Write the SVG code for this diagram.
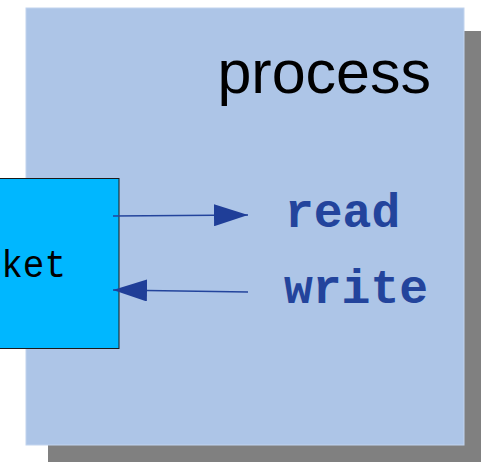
<svg xmlns="http://www.w3.org/2000/svg" width="481" height="462" viewBox="0 0 481 462">
<style>
.lbl{font-family:"Liberation Mono","Courier New",monospace;font-weight:bold;font-size:48px;fill:#23449c}
.conn{stroke:#23449c;stroke-width:1.3;fill:none}
</style>
<defs>
<marker id="ah" viewBox="0 0 34 22" refX="34" refY="11" markerWidth="34" markerHeight="22" markerUnits="userSpaceOnUse" orient="auto">
<path d="M0,0 L34,11 L0,22 Z" fill="#1f3e98"/>
</marker>
</defs>
<rect width="481" height="462" fill="#ffffff"/>
<g id="process">
<rect x="48" y="31" width="440" height="440" fill="#808080"/>
<rect x="26" y="8" width="438" height="437" fill="#adc5e7" stroke="#c2d4ee" stroke-width="1"/>
<text x="431" y="93" text-anchor="end" font-family="Liberation Sans, Arial, sans-serif" font-size="61" fill="#000">process</text>
</g>
<g id="socket">
<rect x="-120" y="178.5" width="239" height="170" fill="#00b7ff" stroke="#1a1a1a" stroke-width="1"/>
<text x="66" y="277" transform="translate(0,277) scale(1,1.1) translate(0,-277)" text-anchor="end" font-family="Liberation Mono, Courier New, monospace" font-size="36" fill="#000">socket</text>
</g>
<g id="read"><text class="lbl" x="285" y="227">read</text></g>
<g id="write"><text class="lbl" x="284" y="303">write</text></g>
<g id="connectors">
<line class="conn" x1="113" y1="216" x2="248" y2="215" marker-end="url(#ah)"/>
<line class="conn" x1="248" y1="292" x2="113" y2="290" marker-end="url(#ah)"/>
</g>
</svg>
